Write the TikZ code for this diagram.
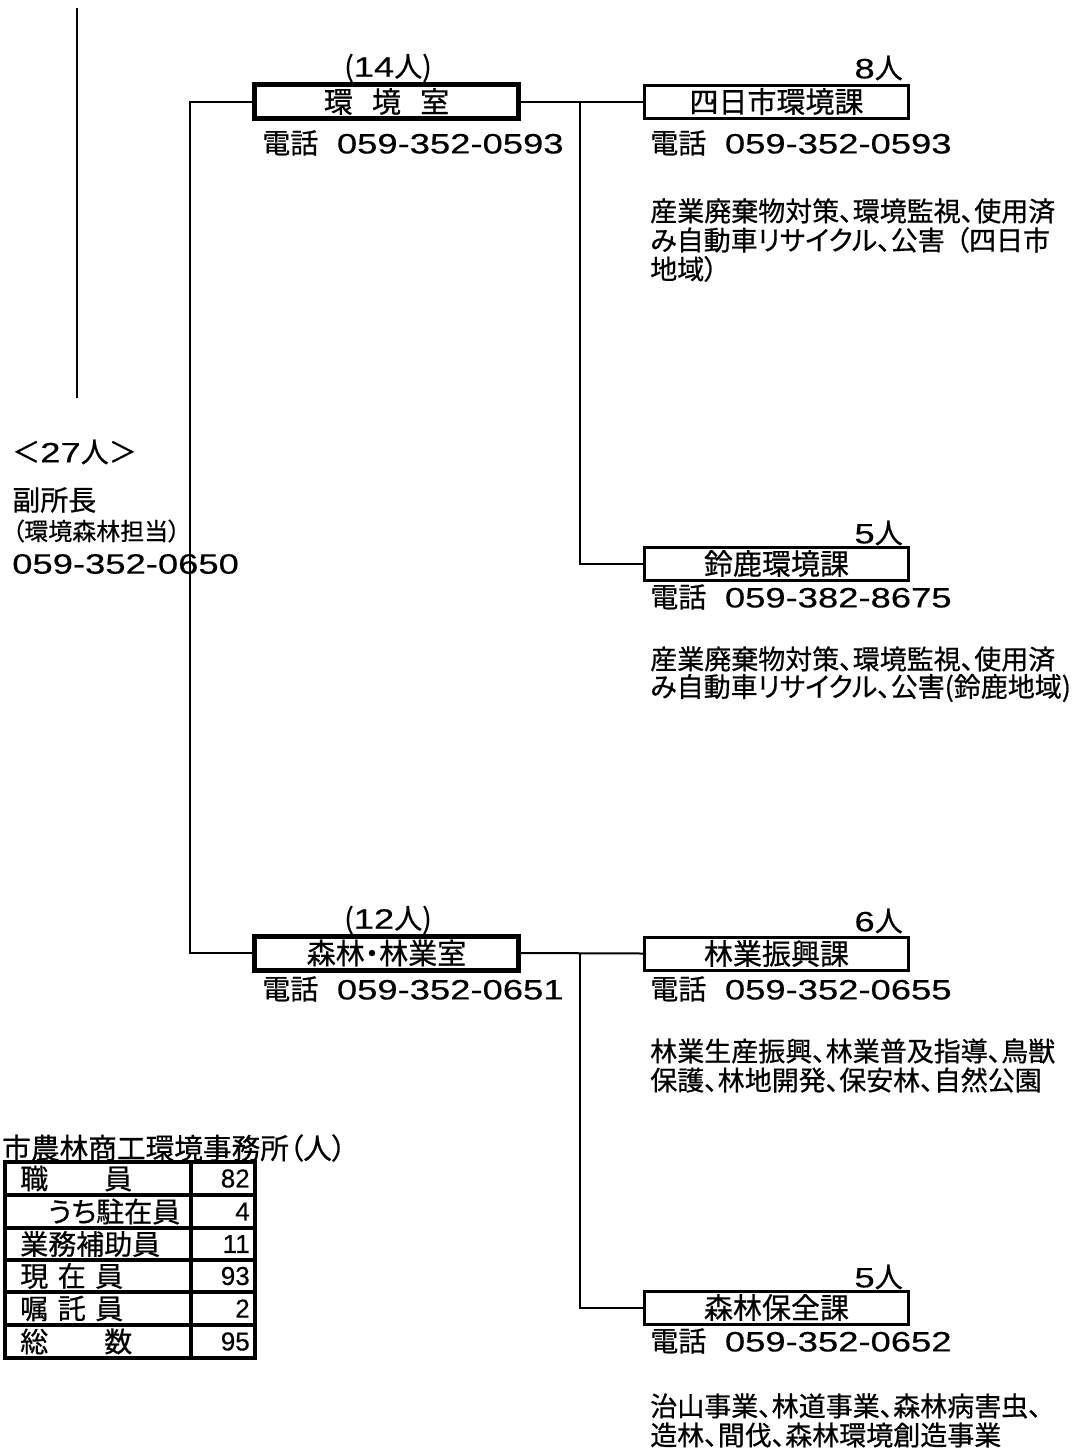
\documentclass[tikz,border=0pt]{standalone}
\usepackage{fontspec}
\newfontfamily\jp[CharacterWidth=AlternateProportional,FakeBold=0.6]{Noto Sans CJK JP}
\newfontfamily\numf[FakeStretch=1.3,FakeBold=0.4]{Liberation Sans}
\newfontfamily\numt[FakeBold=0.4]{Liberation Sans}
\newcommand\fsz[1]{\fontsize{#1}{#1}\selectfont}
\newcommand\tel[1]{電話\hspace{14pt}{\numf #1}}
\begin{document}
\begin{tikzpicture}[x=0.75pt,y=-0.75pt,
  txt/.style={inner sep=0pt, font=\jp\fsz{21}},
  desc/.style={inner sep=0pt, anchor=west, font=\jp\fsz{20.25}},
  thickbox/.style={draw, line width=3.75pt, minimum width=198pt, minimum height=25.5pt, inner sep=0pt, font=\jp\fsz{21.75}},
  thinbox/.style={draw, line width=2.25pt, minimum width=198pt, minimum height=24.75pt, inner sep=0pt, font=\jp\fsz{21.75}},
  conn/.style={line width=1.5pt},
  grid/.style={line width=2.4pt},
  cell/.style={inner sep=0pt, anchor=west, font=\jp\fsz{21}},
  num/.style={inner sep=0pt, anchor=east, font=\numt\fsz{19.5}}]
\useasboundingbox (0,0) rectangle (1082,1450);

% top line
\coordinate (t1) at (77,8);
\coordinate (t2) at (77,398);
\draw[line width=1.9pt] (t1) -- (t2);

% left block
\node[txt, anchor=west] (cnt27) at (12,452) {＜{\numf 27}人＞};
\node[txt, anchor=west] (fuku) at (12,500) {副所長};
\node[txt, anchor=west, font=\jp\fsz{18}] (tanto) at (12,531) {（環境森林担当）};
\node[txt, anchor=west] (ftel) at (12,564) {\numf 059-352-0650};

% 環境室
\node[thickbox, font={\jp\fsz{21.75}\spaceskip=0.66em\relax}] (kan) at (386.5,101.5) {環 境 室};
\node[txt] (kann) at (388,68) {({\numf 14}人)};
\node[txt, anchor=west] (kant) at (262,143) {\tel{059-352-0593}};

% 四日市環境課
\node[thinbox] (yok) at (776.5,101.5) {四日市環境課};
\node[txt, anchor=east] (yokn) at (903,68) {{\numf 8}人};
\node[txt, anchor=west] (yokt) at (650,143) {\tel{059-352-0593}};
\node[desc] (yokd1) at (650,211) {産業廃棄物対策、環境監視、使用済};
\node[desc] (yokd2) at (650,240) {み自動車リサイクル、公害\hspace{0.4em}（四日市};
\node[desc] (yokd3) at (650,269) {地域）};

% 鈴鹿環境課
\node[thinbox] (suz) at (776.5,563.5) {鈴鹿環境課};
\node[txt, anchor=east] (suzn) at (903,533) {{\numf 5}人};
\node[txt, anchor=west] (suzt) at (650,597) {\tel{059-382-8675}};
\node[desc] (suzd1) at (650,659) {産業廃棄物対策、環境監視、使用済};
\node[desc] (suzd2) at (650,688) {み自動車リサイクル、公害(鈴鹿地域)};

% 森林・林業室
\node[thickbox] (shin) at (386.5,953) {森林・林業室};
\node[txt] (shinn) at (388,920) {({\numf 12}人)};
\node[txt, anchor=west] (shint) at (262,989) {\tel{059-352-0651}};

% 林業振興課
\node[thinbox] (rin) at (776.5,953.5) {林業振興課};
\node[txt, anchor=east] (rinn) at (903,921) {{\numf 6}人};
\node[txt, anchor=west] (rint) at (650,989) {\tel{059-352-0655}};
\node[desc] (rind1) at (650,1051) {林業生産振興、林業普及指導、鳥獣};
\node[desc] (rind2) at (650,1080) {保護、林地開発、保安林、自然公園};

% 森林保全課
\node[thinbox] (hoz) at (776.5,1307.5) {森林保全課};
\node[txt, anchor=east] (hozn) at (903,1277) {{\numf 5}人};
\node[txt, anchor=west] (hozt) at (650,1341) {\tel{059-352-0652}};
\node[desc] (hozd1) at (650,1406) {治山事業、林道事業、森林病害虫、};
\node[desc] (hozd2) at (650,1435) {造林、間伐、森林環境創造事業};

% connectors
\coordinate (bl) at (190,0);
\coordinate (br) at (580,0);
\draw[conn] (kan.west) -- (kan.west -| bl) -- (shin.west -| bl) -- (shin.west);
\draw[conn] (kan.east) -- (yok.west);
\draw[conn] (kan.east -| br) |- (suz.west);
\draw[conn] (shin.east) -- (rin.west);
\draw[conn] (shin.east -| br) |- (hoz.west);

% table
\node[txt, anchor=west, font=\jp\fsz{21.5}] (ttl) at (2,1148) {市農林商工環境事務所（人）};
\draw[grid] (5,1162) rectangle (255,1358);
\foreach \yy in {1195,1228,1260,1292,1325} \draw[grid] (5,\yy) -- (255,\yy);
\draw[grid] (191,1162) -- (191,1358);
\node[cell] (r1) at (20,1178.5) {職　　員};
\node[cell] (r2) at (20,1211.5) {　うち駐在員};
\node[cell] (r3) at (20,1244) {業務補助員};
\node[cell, font={\jp\fsz{21}\spaceskip=0.34em\relax}] (r4) at (20,1276) {現 在 員};
\node[cell, font={\jp\fsz{21}\spaceskip=0.34em\relax}] (r5) at (20,1308.5) {嘱 託 員};
\node[cell] (r6) at (20,1341.5) {総　　数};
\node[num] (v1) at (250,1178.5) {82};
\node[num] (v2) at (250,1211.5) {4};
\node[num] (v3) at (250,1244) {11};
\node[num] (v4) at (250,1276) {93};
\node[num] (v5) at (250,1308.5) {2};
\node[num] (v6) at (250,1341.5) {95};
\end{tikzpicture}
\end{document}
